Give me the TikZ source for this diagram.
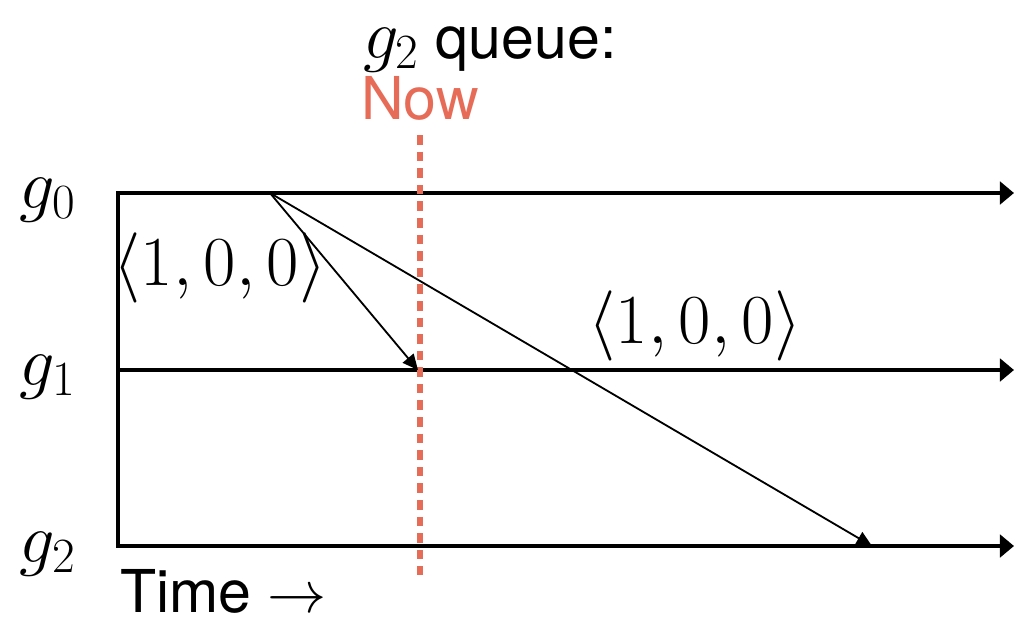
\RequirePackage{fix-cm}
\documentclass[tikz,border=0pt]{standalone}
\usepackage{fontspec}
\setmainfont{TeX Gyre Heros}
\usepackage{tikz}
\usetikzlibrary{arrows.meta,positioning}
\definecolor{nowred}{RGB}{231,108,88}

\begin{document}
\begin{tikzpicture}[
  x=0.025cm, y=-0.025cm,
  every node/.style = {inner sep=0pt, outer sep=0pt},
  txt/.style      = {font=\fontsize{42}{50}\selectfont},
  mth/.style      = {font=\fontsize{50}{60}\selectfont},
  timeline/.style = {line width=3pt, -{Triangle[length=10pt,width=16pt]}},
  msg/.style      = {line width=1.3pt, -{Triangle[length=11pt,width=10pt]}},
  nowline/.style  = {nowred, line width=3.6pt, dash pattern=on 6.8pt off 5pt},
]
\useasboundingbox (0,0) rectangle (1014,620);

%% ── Row positions ────────────────────────────────────────────────────────────
\def\yA{193}  % g0
\def\yB{370}  % g1
\def\yC{546}  % g2
\def\xO{118}  % start of time
\def\xE{1014} % end of time
\def\xN{420}  % now

%% ── Process lines ────────────────────────────────────────────────────────────
\coordinate (o0) at (\xO, \yA);
\coordinate (o1) at (\xO, \yB);
\coordinate (o2) at (\xO, \yC);
\coordinate (e0) at (\xE, \yA);
\coordinate (e1) at (\xE, \yB);
\coordinate (e2) at (\xE, \yC);

\draw[line width=3pt, line cap=rect] (o0) -- (o2);
\draw[timeline] (o0) -- (e0);
\draw[timeline] (o1) -- (e1);
\draw[timeline] (o2) -- (e2);

\node[mth, anchor=base] (g0) at (48, \yA+15) {$g_0$};
\node[mth, anchor=base] (g1) at (48, \yB+15) {$g_1$};
\node[mth, anchor=base] (g2) at (48, \yC+16) {$g_2$};

%% ── Now marker ───────────────────────────────────────────────────────────────
\coordinate (ntop) at (\xN, 135);
\coordinate (nbot) at (\xN, 575);
\draw[nowline] (ntop) -- (nbot);
\node[txt, text=nowred, anchor=base] (now) at (\xN, 119) {Now};
\node[txt, anchor=base west] (queue) at (363, 58)
  {{\fontsize{50}{60}\selectfont$g_2$} queue:};

%% ── Messages ─────────────────────────────────────────────────────────────────
\coordinate (send) at (270, \yA);
\coordinate (recv1) at (418, \yB);
\coordinate (recv2) at (872, \yC);
\draw[msg] (send) -- (recv1);
\draw[msg] (send) -- (recv2);

\node[mth, anchor=base] (vc1) at (220, 285) {$\langle 1,0,0\rangle$};
\node[mth, anchor=base] (vc2) at (695, 343) {$\langle 1,0,0\rangle$};

%% ── Time axis label ──────────────────────────────────────────────────────────
\node[txt, anchor=base west] (time) at (120, 612) {Time $\rightarrow$};

\end{tikzpicture}
\end{document}
